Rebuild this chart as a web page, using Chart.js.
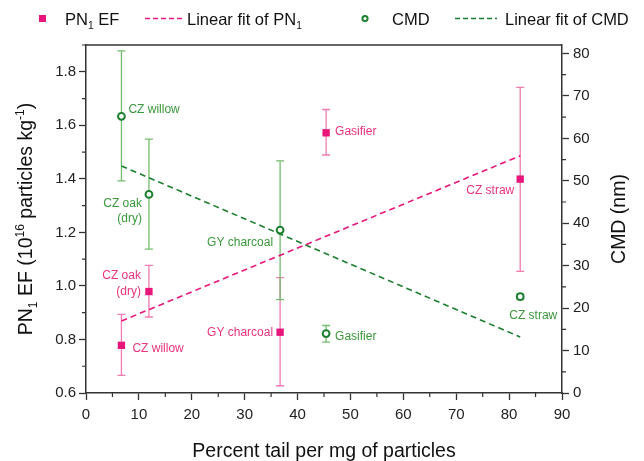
<!DOCTYPE html>
<html>
<head>
<meta charset="utf-8">
<script src="https://cdn.jsdelivr.net/npm/chart.js@4.4.1/dist/chart.umd.min.js"></script>
<style>
  body { margin: 0; background: #fff; }
  #wrap { width: 644px; height: 461px; position: relative; }
</style>
</head>
<body>
<div id="wrap"><canvas id="chart"></canvas></div>
<script>
// values
const fuels = ["CZ willow", "CZ oak (dry)", "GY charcoal", "Gasifier", "CZ straw"];
const tailPercent = [6.7, 11.9, 36.7, 45.4, 82.1];
const pnEF = [0.778, 0.979, 0.827, 1.572, 1.399];
const pnLow = [0.666, 0.884, 0.627, 1.489, 1.054];
const pnHigh = [0.894, 1.077, 1.031, 1.659, 1.742];
const cmd = [65.2, 46.8, 38.4, 14.0, 22.7];
const cmdLow = [50.0, 33.9, 22.0, 12.0, 22.0];
const cmdHigh = [80.6, 59.8, 54.7, 15.9, 23.4];
const fitX = [6.7, 82.1];
const pnFit = [0.869, 1.486];
const cmdFit = [53.5, 13.2];

const FONT = "'Liberation Sans', Arial, sans-serif";
const PINK = "#e8157a", PINK_TXT = "#e8337f", PINK_ERR = "#f27bb2";
const GREEN = "#1d7f30", GREEN_TXT = "#3b973b", GREEN_ERR = "#74be6e";
const AXIS = "#333";

// label offsets from each point (px)
const pnLabelPos = [
  { dx: 11, dy: 3, align: "left" },
  { dx: -8, dy: -15.5, align: "right" },
  { dx: -7, dy: 0.5, align: "right" },
  { dx: 9, dy: -1, align: "left" },
  { dx: -6, dy: 11.5, align: "right" },
];
const cmdLabelPos = [
  { dx: 7, dy: -7, align: "left" },
  { dx: -7, dy: 9, align: "right" },
  { dx: -7, dy: 13, align: "right" },
  { dx: 9, dy: 3, align: "left" },
  { dx: 13, dy: 19, align: "center" },
];

function pts(xs, ys) {
  return xs.map((x, i) => ({ x: x, y: ys[i] }));
}

function splitName(name) {
  const i = name.indexOf(" (");
  return i < 0 ? [name] : [name.slice(0, i), name.slice(i + 1)];
}

// text with sub/superscripts: parts = [[text, mode]] mode 0 normal, 1 sub, 2 sup
function richWidth(ctx, parts, size) {
  let w = 0;
  parts.forEach(([t, m]) => {
    ctx.font = (m ? size * 0.62 : size) + "px " + FONT;
    w += ctx.measureText(t).width;
  });
  return w;
}
function drawRich(ctx, parts, x, y, size, align) {
  const w = richWidth(ctx, parts, size);
  let cx = align === "center" ? x - w / 2 : x;
  ctx.textAlign = "left";
  ctx.textBaseline = "alphabetic";
  parts.forEach(([t, m]) => {
    ctx.font = (m ? size * 0.62 : size) + "px " + FONT;
    let yy = y;
    if (m === 1) yy = y + size * 0.28;
    if (m === 2) yy = y - size * 0.42;
    ctx.fillText(t, cx, yy);
    cx += ctx.measureText(t).width;
  });
}

const extras = {
  id: "extras",
  beforeDatasetsDraw(chart) {
    const { ctx, scales } = chart;
    const x = scales.x;
    ctx.save();
    // error bars
    const bars = [
      [scales.y, pnLow, pnHigh, PINK_ERR],
      [scales.y1, cmdLow, cmdHigh, GREEN_ERR],
    ];
    bars.forEach(([ys, lo, hi, col]) => {
      ctx.strokeStyle = col;
      ctx.lineWidth = 1.3;
      tailPercent.forEach((v, i) => {
        const px = x.getPixelForValue(v);
        const p1 = ys.getPixelForValue(lo[i]);
        const p2 = ys.getPixelForValue(hi[i]);
        ctx.beginPath();
        ctx.moveTo(px, p1); ctx.lineTo(px, p2);
        ctx.moveTo(px - 4, p1); ctx.lineTo(px + 4, p1);
        ctx.moveTo(px - 4, p2); ctx.lineTo(px + 4, p2);
        ctx.stroke();
      });
    });
    ctx.restore();
  },
  afterDraw(chart) {
    const { ctx, chartArea: a, scales } = chart;
    ctx.save();
    // top frame line
    ctx.strokeStyle = AXIS;
    ctx.lineWidth = 1.5;
    ctx.beginPath();
    ctx.moveTo(a.left, a.top); ctx.lineTo(a.right, a.top);
    ctx.stroke();
    // minor ticks
    ctx.lineWidth = 1.2;
    ctx.beginPath();
    for (let v = 5; v < 90; v += 10) {
      const px = scales.x.getPixelForValue(v);
      ctx.moveTo(px, a.bottom); ctx.lineTo(px, a.bottom + 4);
    }
    for (let v = 0.7; v < 1.9; v += 0.2) {
      const py = scales.y.getPixelForValue(v);
      ctx.moveTo(a.left - 4, py); ctx.lineTo(a.left, py);
    }
    for (let v = 5; v < 82; v += 10) {
      const py = scales.y1.getPixelForValue(v);
      ctx.moveTo(a.right, py); ctx.lineTo(a.right + 4, py);
    }
    ctx.stroke();

    // point labels
    ctx.font = "12px " + FONT;
    ctx.textBaseline = "middle";
    const lbl = [
      [scales.y, pnEF, pnLabelPos, PINK_TXT],
      [scales.y1, cmd, cmdLabelPos, GREEN_TXT],
    ];
    lbl.forEach(([ys, vals, pos, col]) => {
      ctx.fillStyle = col;
      fuels.forEach((name, i) => {
        const px = scales.x.getPixelForValue(tailPercent[i]) + pos[i].dx;
        const py = ys.getPixelForValue(vals[i]) + pos[i].dy;
        ctx.textAlign = pos[i].align;
        splitName(name).forEach((line, k) => ctx.fillText(line, px, py + k * 15.5));
      });
    });

    // axis titles
    ctx.fillStyle = "#111";
    const tsize = 19.5;
    ctx.save();
    ctx.translate(32, (a.top + a.bottom) / 2);
    ctx.rotate(-Math.PI / 2);
    drawRich(ctx, [["PN", 0], ["1", 1], [" EF (10", 0], ["16", 2], [" particles kg", 0], ["-1", 2], [")", 0]], 0, 0, tsize, "center");
    ctx.restore();
    ctx.save();
    ctx.translate(625, (a.top + a.bottom) / 2);
    ctx.rotate(-Math.PI / 2);
    drawRich(ctx, [["CMD (nm)", 0]], 0, 0, tsize, "center");
    ctx.restore();
    drawRich(ctx, [["Percent tail per mg of particles", 0]], (a.left + a.right) / 2, 457, tsize, "center");

    // legend
    const ly = 18.5, lsize = 16.5;
    ctx.fillStyle = PINK;
    ctx.fillRect(39, ly - 3.5, 7, 7);
    ctx.fillStyle = "#111";
    drawRich(ctx, [["PN", 0], ["1", 1], [" EF", 0]], 65, ly + 6, lsize, "left");
    ctx.setLineDash([5, 3]);
    ctx.lineWidth = 1.5;
    ctx.strokeStyle = PINK;
    ctx.beginPath(); ctx.moveTo(145, ly); ctx.lineTo(185, ly); ctx.stroke();
    drawRich(ctx, [["Linear fit of PN", 0], ["1", 1]], 187, ly + 6, lsize, "left");
    ctx.strokeStyle = GREEN;
    ctx.beginPath(); ctx.moveTo(455, ly); ctx.lineTo(497, ly); ctx.stroke();
    ctx.setLineDash([]);
    ctx.lineWidth = 2;
    ctx.beginPath(); ctx.arc(365, ly, 2.6, 0, Math.PI * 2); ctx.stroke();
    drawRich(ctx, [["CMD", 0]], 392, ly + 6, lsize, "left");
    drawRich(ctx, [["Linear fit of CMD", 0]], 505, ly + 6, lsize, "left");
    ctx.restore();
  },
};

const tickFont = { family: FONT, size: 15 };

new Chart(document.getElementById("chart"), {
  type: "scatter",
  data: {
    datasets: [
      {
        label: "Linear fit of PN1",
        type: "line",
        data: pts(fitX, pnFit),
        yAxisID: "y",
        borderColor: PINK,
        borderWidth: 1.6,
        borderDash: [6, 4],
        pointRadius: 0,
        fill: false,
      },
      {
        label: "Linear fit of CMD",
        type: "line",
        data: pts(fitX, cmdFit),
        yAxisID: "y1",
        borderColor: GREEN,
        borderWidth: 1.6,
        borderDash: [6, 4],
        pointRadius: 0,
        fill: false,
      },
      {
        label: "PN1 EF",
        data: pts(tailPercent, pnEF),
        yAxisID: "y",
        pointStyle: "rect",
        pointRadius: 5.2,
        backgroundColor: PINK,
        borderColor: PINK,
        borderWidth: 0,
      },
      {
        label: "CMD",
        data: pts(tailPercent, cmd),
        yAxisID: "y1",
        pointStyle: "circle",
        pointRadius: 3.4,
        backgroundColor: "#fff",
        borderColor: GREEN,
        borderWidth: 2,
      },
    ],
  },
  options: {
    responsive: true,
    maintainAspectRatio: false,
    animation: false,
    layout: { padding: { top: 45, left: 0, right: 0, bottom: 0 } },
    plugins: { legend: { display: false }, tooltip: { enabled: false } },
    scales: {
      x: {
        type: "linear",
        min: 0,
        max: 90,
        ticks: { stepSize: 10, color: "#222", font: tickFont, padding: 6 },
        grid: { drawOnChartArea: false, tickLength: 7, tickColor: AXIS, tickWidth: 1.3 },
        border: { color: AXIS, width: 1.5 },
        afterFit(s) { s.height = 68; },
      },
      y: {
        position: "left",
        min: 0.6,
        max: 1.9,
        ticks: {
          stepSize: 0.2,
          includeBounds: false,
          color: "#222",
          font: tickFont,
          padding: 3,
          callback: (v) => v.toFixed(1),
        },
        grid: { drawOnChartArea: false, tickLength: 7, tickColor: AXIS, tickWidth: 1.3 },
        border: { color: AXIS, width: 1.5 },
        afterFit(s) { s.width = 86; },
      },
      y1: {
        position: "right",
        min: 0,
        max: 82,
        ticks: { stepSize: 10, includeBounds: false, color: "#222", font: tickFont, padding: 4 },
        grid: { drawOnChartArea: false, tickLength: 7, tickColor: AXIS, tickWidth: 1.3 },
        border: { color: AXIS, width: 1.5 },
        afterFit(s) { s.width = 82; },
      },
    },
  },
  plugins: [extras],
});
</script>
</body>
</html>
